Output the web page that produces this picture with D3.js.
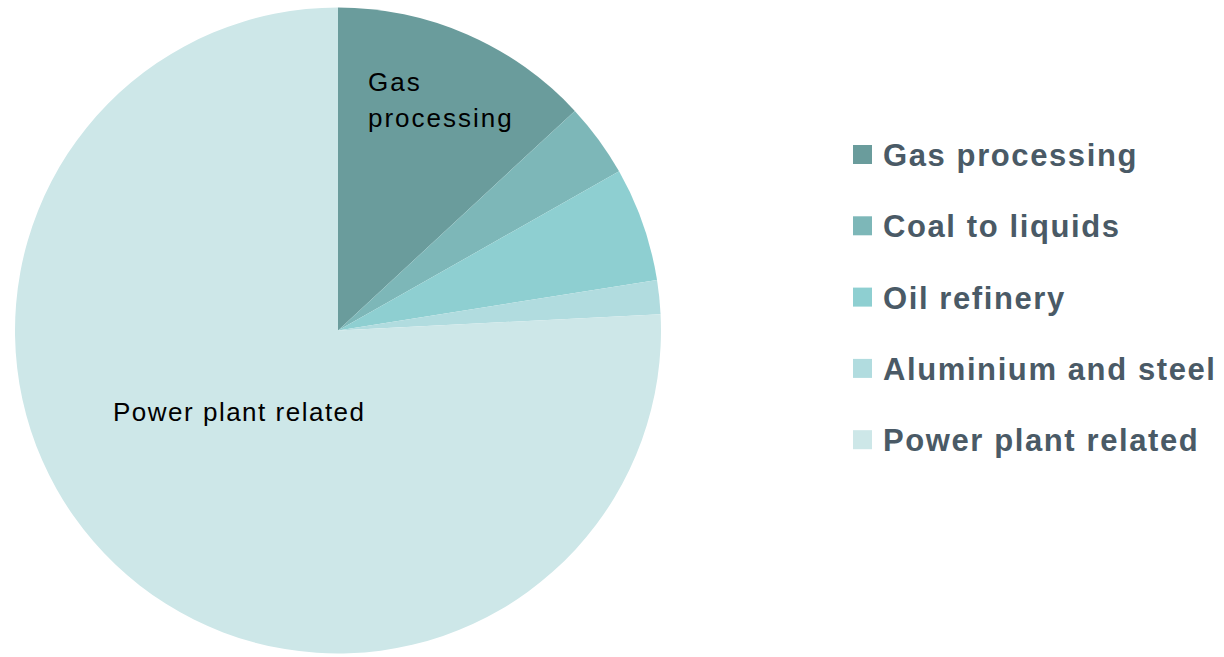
<!DOCTYPE html>
<html>
<head>
<meta charset="utf-8">
<script src="https://cdn.jsdelivr.net/npm/d3@7"></script>
<style>
  body { margin: 0; background: #fff; }
  svg { display: block; }
</style>
</head>
<body>
<script>
const categories = ["Gas processing", "Coal to liquids", "Oil refinery", "Aluminium and steel", "Power plant related"];
const values = [13.1, 3.7, 5.7, 1.7, 75.8];
const colors = ["#6a9c9c", "#7db7b8", "#8ecfd1", "#b1dcdf", "#cde7e8"];

const width = 1224, height = 657;
const cx = 338, cy = 330.5, radius = 323;

const svg = d3.select("body").append("svg")
    .attr("width", width)
    .attr("height", height);

const pie = d3.pie().sort(null).value(d => d.value);
const arcs = pie(categories.map((c, i) => ({ name: c, value: values[i], color: colors[i] })));
const arc = d3.arc().innerRadius(0).outerRadius(radius);

const g = svg.append("g").attr("transform", `translate(${cx},${cy})`);
g.selectAll("path")
    .data(arcs)
    .join("path")
    .attr("d", arc)
    .attr("fill", d => d.data.color);

// slice labels
const labelFont = "'Liberation Sans', Arial, sans-serif";
g.append("text")
    .attr("x", 30).attr("y", -239.5)
    .attr("font-family", labelFont).attr("font-size", 26).attr("fill", "#000")
    .attr("letter-spacing", 2)
    .selectAll("tspan")
    .data(["Gas", "processing"])
    .join("tspan")
    .attr("x", 30)
    .attr("dy", (d, i) => i ? 36 : 0)
    .text(d => d);

g.append("text")
    .attr("x", -225).attr("y", 90.5)
    .attr("font-family", labelFont).attr("font-size", 26).attr("fill", "#000")
    .attr("letter-spacing", 1.5)
    .text("Power plant related");

// legend
const legend = svg.append("g").attr("transform", "translate(853,155)");
const row = legend.selectAll("g")
    .data(categories)
    .join("g")
    .attr("transform", (d, i) => `translate(0,${i * 71.3})`);
row.append("rect")
    .attr("x", 0).attr("y", -10)
    .attr("width", 19).attr("height", 19)
    .attr("fill", (d, i) => colors[i]);
row.append("text")
    .attr("x", 30).attr("y", 11)
    .attr("font-family", labelFont)
    .attr("font-size", 31)
    .attr("font-weight", "bold")
    .attr("letter-spacing", 1.6)
    .attr("fill", "#4a5a66")
    .text(d => d);
</script>
</body>
</html>
